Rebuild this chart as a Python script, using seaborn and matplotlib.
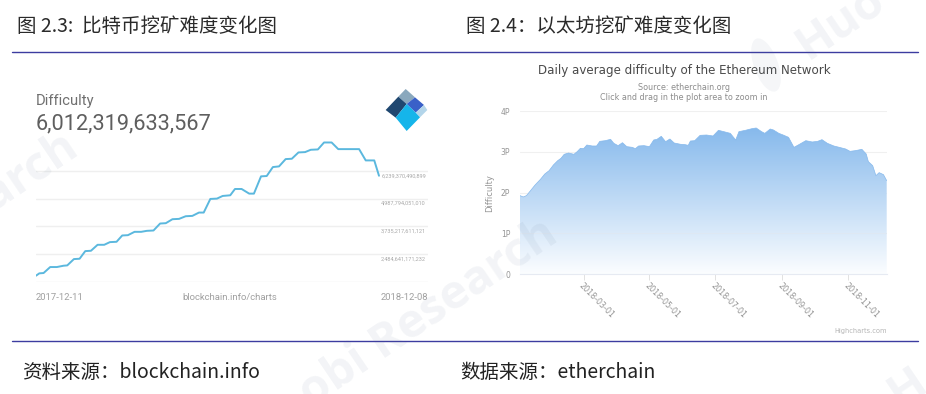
import matplotlib
matplotlib.use('Agg')
import matplotlib.pyplot as plt
from matplotlib.colors import LinearSegmentedColormap
from matplotlib.patches import Polygon, Ellipse
import numpy as np
import pandas as pd
import seaborn as sns

# bitcoin difficulty, days since 2017-12-11, values in trillions
btc_days = [0, 3.5, 8, 15, 22, 29, 33, 40, 46, 52, 58, 65, 72, 78, 85, 91, 97, 104, 111, 117, 124,
            131, 137, 144, 151, 158, 165, 172, 177, 184, 191, 197, 205, 210, 217, 225, 230, 237.5,
            243.5, 250, 256.5, 263.5, 270, 277, 284, 290, 297.5, 304, 312, 319, 341, 348, 357, 362]
btc_diff = [1.516, 1.621, 1.636, 1.905, 1.905, 1.964, 1.979, 2.263, 2.278, 2.622, 2.637, 2.906, 2.906,
            3.026, 3.041, 3.325, 3.339, 3.489, 3.489, 3.534, 3.549, 3.863, 3.878, 4.057, 4.072, 4.191,
            4.206, 4.356, 4.356, 4.969, 4.984, 5.103, 5.133, 5.417, 5.417, 5.208, 5.208, 5.985, 6.000,
            6.403, 6.433, 6.762, 6.777, 7.061, 7.076, 7.181, 7.196, 7.509, 7.509, 7.210, 7.210, 6.702,
            6.702, 6.012]
btc_grid = [1.232, 2.484641171232, 3.735217611121, 4.987794051010, 6.239370490899]
btc_grid_labels = ['2,484,641,171,232', '3,735,217,611,121', '4,987,794,051,010', '6,239,370,490,899']

# ethereum difficulty, days since 2018-01-01, values in P
eth_days = [0, 3, 6, 9, 14, 19, 23, 27, 31, 35, 38, 41, 45, 50, 53, 56, 59, 62, 67, 71, 74, 79, 84, 87,
            91, 95, 99, 104, 107, 110, 115, 120, 124, 127, 131, 135, 139, 143, 149, 153, 156, 158, 162,
            167, 173, 179, 184, 189, 195, 200, 203, 209, 215, 219, 224, 227, 232, 235, 240, 244, 249,
            254, 258, 265, 271, 276, 280, 285, 291, 296, 302, 306, 311, 317, 321, 323, 327, 330, 333,
            337, 340]
eth_diff = [1.927, 1.894, 1.927, 2.024, 2.188, 2.327, 2.457, 2.539, 2.678, 2.784, 2.841, 2.939, 2.971,
            2.939, 3.004, 3.086, 3.078, 3.167, 3.143, 3.143, 3.257, 3.273, 3.306, 3.208, 3.151, 3.224,
            3.127, 3.110, 3.078, 3.143, 3.151, 3.127, 3.290, 3.306, 3.380, 3.249, 3.314, 3.216, 3.184,
            3.176, 3.159, 3.265, 3.273, 3.404, 3.412, 3.388, 3.527, 3.494, 3.453, 3.290, 3.494, 3.527,
            3.567, 3.584, 3.494, 3.453, 3.559, 3.535, 3.453, 3.412, 3.355, 3.110, 3.167, 3.273, 3.241,
            3.257, 3.298, 3.208, 3.143, 3.110, 3.069, 3.012, 3.029, 3.061, 2.947, 2.759, 2.661, 2.416,
            2.490, 2.441, 2.294]
eth_ticks = ['2018-03-01', '2018-05-01', '2018-07-01', '2018-09-01', '2018-11-01']
eth_yticks = [0, 1, 2, 3, 4]
eth_ylabels = ['0', '1P', '2P', '3P', '4P']

sns.set_theme(style='white')
plt.rcParams['font.family'] = ['Noto Sans CJK SC', 'DejaVu Sans']

W, H = 926, 394
fig = plt.figure(figsize=(W / 100, H / 100), dpi=100)


def rect(l, t, r, b):
    return [l / W, 1 - b / H, (r - l) / W, (b - t) / H]


# page layer in pixel coordinates
page = fig.add_axes([0, 0, 1, 1], zorder=0)
page.set_xlim(0, W)
page.set_ylim(H, 0)
page.axis('off')

page.text(17, 26, '图 2.3:  比特币挖矿难度变化图', fontsize=14, color='#2a2a2a', va='center')
page.text(466, 26, '图 2.4：以太坊挖矿难度变化图', fontsize=14, color='#2a2a2a', va='center')
page.text(22, 372, '资料来源：blockchain.info', fontsize=14, color='#222222', va='center')
page.text(460, 372, '数据来源：etherchain', fontsize=14, color='#222222', va='center')
page.plot([12, 918], [52, 52], color='#3c3ca0', lw=1)
page.plot([12, 918], [341, 341], color='#3c3ca0', lw=1)

# blockchain logo
logo = [([(527, 27), (555, 52), (530, 72), (505, 50)], '#8aa8bd'),
        ([(505, 50), (530, 72), (497, 113), (467, 90)], '#1f4770'),
        ([(530, 72), (555, 52), (582, 75), (557, 98)], '#3a60c8'),
        ([(582, 75), (592, 90), (570, 112), (557, 98)], '#b3d5ea'),
        ([(530, 72), (557, 98), (570, 112), (530, 153), (497, 113)], '#15b5ea')]
for pts, c in logo:
    page.add_patch(Polygon([(230 + x / 3, 80 + y / 3) for x, y in pts], closed=True, fc=c, ec='none'))

# left chart
px_per_t = (282 - 170.7) / (btc_grid[-1] - btc_grid[0])
ax1 = fig.add_axes(rect(36, 135, 428, 282), zorder=1)
ax1.patch.set_alpha(0)
sns.lineplot(x=btc_days, y=btc_diff, color='#5bb8de', lw=1.4, ax=ax1)
ax1.set_xlim(0, 392 / 0.9475)
ax1.set_ylim(btc_grid[0], btc_grid[0] + 147 / px_per_t)
ax1.set_yticks(btc_grid)
ax1.set_xticks([])
ax1.set_yticklabels([])
ax1.tick_params(left=False)
ax1.grid(axis='y', color='#efefef', lw=1)
ax1.set_axisbelow(True)
sns.despine(ax=ax1, left=True, bottom=True)
for v, lab in zip(btc_grid[1:], btc_grid_labels):
    ax1.annotate(lab, (1, v), xycoords=('axes fraction', 'data'), xytext=(-1.5, -3.6), textcoords='offset points',
                 ha='right', va='center', fontsize=4, color='#a8a8a8', family='Roboto')

page.text(36, 101, 'Difficulty', fontsize=10.6, color='#707070', family='Roboto', va='center')
page.text(36, 124, '6,012,319,633,567', fontsize=15.7, color='#5f5f5f', family='Roboto', va='center')
page.text(36, 298, '2017-12-11', fontsize=6.8, color='#a0a0a0', family='Roboto', va='center')
page.text(230, 298, 'blockchain.info/charts', fontsize=6.8, color='#a0a0a0', family='Roboto', va='center', ha='center')
page.text(428, 298, '2018-12-08', fontsize=6.8, color='#a0a0a0', family='Roboto', va='center', ha='right')

# right chart
ax2 = fig.add_axes(rect(520, 111, 886.7, 274.3), zorder=1)
ax2.patch.set_alpha(0)
ax2.set_xlim(0, 340)
ax2.set_ylim(0, 4)
ax2.set_yticks(eth_yticks)
ax2.set_yticklabels(eth_ylabels, fontsize=5.5, color='#959595', family='DejaVu Sans')
ax2.grid(axis='y', color='#f0f0f0', lw=0.8)
ax2.set_axisbelow(True)

cmap = LinearSegmentedColormap.from_list('eth', ['#86b9ec', '#fbfdff'])
poly = ax2.fill_between(eth_days, eth_diff, 0, color='none', lw=0)
grad = ax2.imshow(np.linspace(0, 1, 256).reshape(-1, 1), extent=[0, 340, 0, max(eth_diff)], cmap=cmap,
                  aspect='auto', origin='upper', zorder=1.5)
grad.set_clip_path(poly.get_paths()[0], transform=ax2.transData)
ax2.set_xlim(0, 340)
ax2.set_ylim(0, 4)
sns.lineplot(x=eth_days, y=eth_diff, color='#86b9ec', lw=0.5, ax=ax2, zorder=2)
ax2.axhline(1, color='#dfe8f2', lw=0.6, zorder=2)

start = pd.Timestamp('2018-01-01')
ax2.set_xticks([(pd.Timestamp(t) - start).days for t in eth_ticks])
ax2.set_xticklabels(eth_ticks, rotation=-45, ha='left', va='top', rotation_mode='anchor',
                    fontsize=5.8, color='#959595', family='DejaVu Sans')
ax2.tick_params(axis='x', length=4.5, width=0.6, color='#dddddd', pad=0.5, bottom=True)
ax2.tick_params(axis='y', length=0, pad=7)
ax2.set_ylabel('Difficulty', fontsize=6, color='#959595', family='DejaVu Sans', labelpad=4.5)
sns.despine(ax=ax2, left=True)
ax2.spines['bottom'].set_color('#e6eaf2')
ax2.spines['bottom'].set_linewidth(0.8)

page.text(684, 70, 'Daily average difficulty of the Ethereum Network', fontsize=8.55, color='#4a4a4a',
          family='DejaVu Sans', ha='center', va='center')
page.text(684, 87, 'Source: etherchain.org', fontsize=5.8, color='#8c8c8c', family='DejaVu Sans', ha='center', va='center')
page.text(684, 97, 'Click and drag in the plot area to zoom in', fontsize=5.8, color='#8c8c8c',
          family='DejaVu Sans', ha='center', va='center')
page.text(887, 331, 'Highcharts.com', fontsize=4.8, color='#b5b5b5', family='DejaVu Sans', ha='right', va='center')

# watermarks sit over everything, faint
mark = fig.add_axes([0, 0, 1, 1], zorder=5)
mark.set_xlim(0, W)
mark.set_ylim(H, 0)
mark.axis('off')
mark.patch.set_alpha(0)
wm = dict(fontsize=34, fontweight='bold', color='#5a7090', alpha=0.075, rotation=34, family='Open Sans',
          va='baseline', rotation_mode='anchor')
mark.text(80, 153, 'arch', ha='right', **wm)
mark.text(560, 240, 'obi Research', ha='right', **wm)
mark.text(808, 60, 'Huo', ha='left', **wm)
mark.text(900, 408, 'H', ha='left', **wm)
mark.add_patch(Ellipse((766, 65), 24, 56, angle=-20, fc='#5a7090', ec='none', alpha=0.06))

fig.savefig('out.png', dpi=100)
